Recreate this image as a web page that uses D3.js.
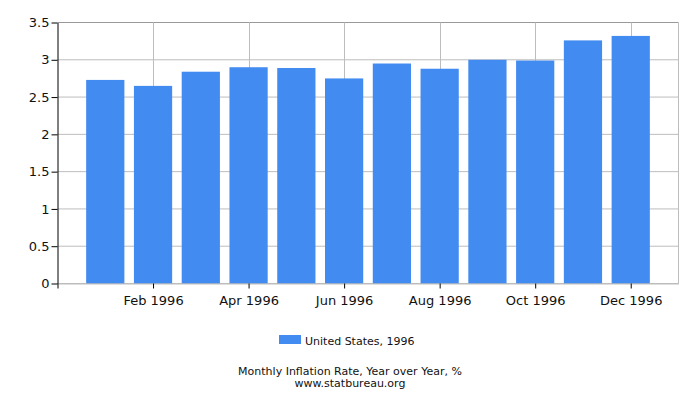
<!DOCTYPE html>
<html><head><meta charset="utf-8">
<script src="https://cdn.jsdelivr.net/npm/d3@7"></script>
<style>body{margin:0;background:#fff;} svg{display:block;font-family:"DejaVu Sans",sans-serif;}</style>
</head><body>
<svg id="c" width="700" height="400"></svg>
<script>
const months = ["Jan 1996","Feb 1996","Mar 1996","Apr 1996","May 1996","Jun 1996","Jul 1996","Aug 1996","Sep 1996","Oct 1996","Nov 1996","Dec 1996"];
const values = [2.73,2.65,2.84,2.90,2.89,2.75,2.95,2.88,3.00,2.99,3.26,3.32];
const yTicks = [0,0.5,1,1.5,2,2.5,3,3.5];
const xTickLabels = ["Feb 1996","Apr 1996","Jun 1996","Aug 1996","Oct 1996","Dec 1996"];
const seriesName = "United States, 1996";
const titleLines = ["Monthly Inflation Rate, Year over Year, %","www.statbureau.org"];

const svg = d3.select("#c");
const L=57.5, R=678.5, T=22.5, B=283.5;
const x = d3.scaleLinear().domain([0,13]).range([L,R]);
const y = d3.scaleLinear().domain([0,3.5]).range([B,T]);
const idx = m => months.indexOf(m)+1;

svg.append("g").selectAll("line").data(yTicks).join("line")
  .attr("x1",L).attr("x2",R).attr("y1",d=>y(d)).attr("y2",d=>y(d))
  .attr("stroke",d=>d===3.5?"#999":"#bdbdbd").attr("stroke-width",1);
svg.append("g").selectAll("line").data(xTickLabels).join("line")
  .attr("x1",d=>Math.round(x(idx(d)))+0.5).attr("x2",d=>Math.round(x(idx(d)))+0.5)
  .attr("y1",T).attr("y2",B).attr("stroke","#bdbdbd");
svg.append("line").attr("x1",R).attr("x2",R).attr("y1",T).attr("y2",B).attr("stroke","#bdbdbd");

const bw = (x(1)-x(0))*0.8;
svg.append("g").selectAll("rect").data(values).join("rect")
  .attr("x",(d,i)=>x(i+1)-bw/2).attr("width",bw)
  .attr("y",d=>y(d)).attr("height",d=>B-y(d))
  .attr("fill","#428bf0");

const ya = svg.append("g").attr("transform",`translate(${L},0)`)
  .call(d3.axisLeft(y).tickValues(yTicks).tickFormat(d3.format("")).tickSize(6).tickSizeOuter(0));
ya.select(".domain").attr("stroke","#000");
ya.selectAll(".tick line").attr("stroke","#000");
ya.selectAll("text").attr("font-size","13px").attr("fill","#111").attr("x",-8).attr("font-family","DejaVu Sans");

const xa = svg.append("g").attr("transform",`translate(0,${B})`)
  .call(d3.axisBottom(x).tickValues([0].concat(xTickLabels.map(idx)))
    .tickFormat(d=>d===0?"":months[d-1]).tickSize(5).tickSizeOuter(0));
xa.select(".domain").attr("stroke","#bdbdbd");
xa.selectAll(".tick line").attr("stroke","#000");
xa.selectAll("text").attr("font-size","13px").attr("fill","#111").attr("dy","1.05em").attr("font-family","DejaVu Sans");

svg.append("rect").attr("x",279).attr("y",335).attr("width",22).attr("height",9).attr("fill","#428bf0");
svg.append("text").attr("x",305).attr("y",344.5).attr("font-size","11px").attr("fill","#111").text(seriesName);

svg.append("g").selectAll("text").data(titleLines).join("text")
  .attr("x",350).attr("y",(d,i)=>374.5+i*12).attr("text-anchor","middle")
  .attr("font-size","11px").attr("fill","#111").text(d=>d);
</script>
</body></html>
